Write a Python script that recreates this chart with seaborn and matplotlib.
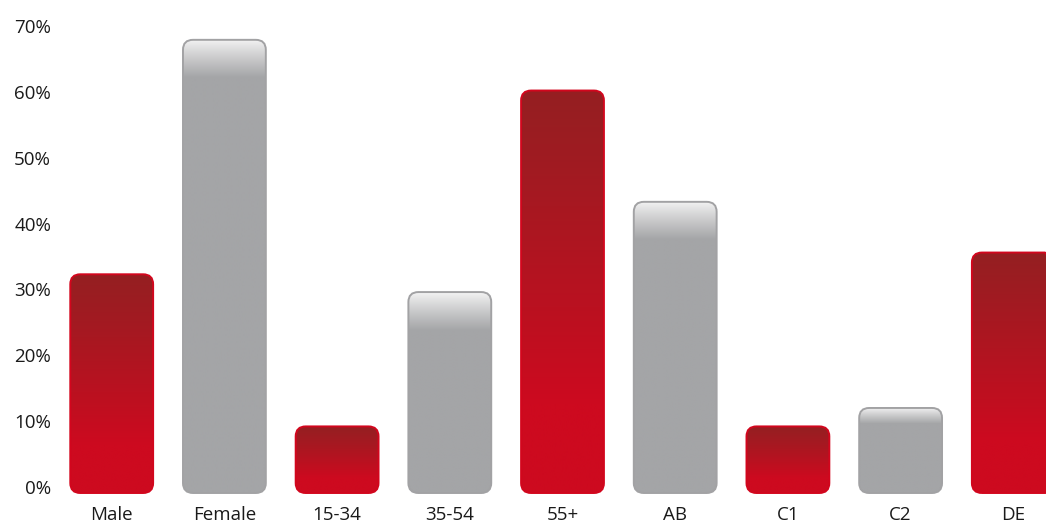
import numpy as np
import matplotlib
matplotlib.use("Agg")
import matplotlib.pyplot as plt
import seaborn as sns
import pandas as pd
from matplotlib.patches import FancyBboxPatch
from matplotlib.colors import to_rgb
from matplotlib.ticker import FuncFormatter

# ---- data ----
categories = ["Male", "Female", "15-34", "35-54", "55+", "AB", "C1", "C2", "DE"]
values = [32.3, 67.9, 9.2, 29.6, 60.2, 43.3, 9.2, 12.0, 35.6]
kinds = ["red", "gray", "red", "gray", "red", "gray", "red", "gray", "red"]
yticks = [0, 10, 20, 30, 40, 50, 60, 70]

sns.set_theme(style="white")
plt.rcParams['font.family'] = ['Open Sans', 'DejaVu Sans']

W, H = 1046, 526
fig = plt.figure(figsize=(W / 100, H / 100), dpi=100)
ax_l, ax_r, ax_t, ax_b = 58, 1046, 10, 500
ax = fig.add_axes([ax_l / W, 1 - ax_b / H, (ax_r - ax_l) / W, (ax_b - ax_t) / H])

df = pd.DataFrame({"category": categories, "value": values, "kind": kinds})
palette = {"red": "#cc0a1f", "gray": "#a4a5a7"}
sns.barplot(data=df, x="category", y="value", hue="kind", palette=palette,
            dodge=False, width=0.735, legend=False, ax=ax)

XLIM = (-0.4765, 8.29)
YLIM = (-1.974, 72.43)
ax.set_xlim(*XLIM)
ax.set_ylim(*YLIM)
BASE = -0.91

px_x = ax.bbox.width / (XLIM[1] - XLIM[0])
px_y = ax.bbox.height / (YLIM[1] - YLIM[0])
r_px = 10
rx = r_px / px_x
ry = r_px / px_y

red_dark = np.array(to_rgb("#951f22"))
red_bright = np.array(to_rgb("#cd0a1f"))
gray_light = np.array(to_rgb("#f4f4f4"))
gray_base = np.array(to_rgb("#a4a5a7"))

for p in list(ax.patches):
    h = p.get_height()
    if not np.isfinite(h) or h <= 0:
        p.set_visible(False)
        continue
    x0, w = p.get_x(), p.get_width()
    fc = p.get_facecolor()
    is_red = fc[0] > 0.6 and fc[1] < 0.3
    p.set_visible(False)
    top = h
    hpx = (top - BASE) * px_y
    n = max(int(hpx), 2)
    rows = np.arange(n) / (n - 1)  # 0 top -> 1 bottom
    if is_red:
        t = np.clip(rows / 0.78, 0, 1)
        t = t ** 1.1
        cols = red_dark[None, :] * (1 - t[:, None]) + red_bright[None, :] * t[:, None]
        edge = "#d2061d"
    else:
        L = min(38.0, 0.19 * hpx)
        d = rows * hpx
        t = np.clip(d / L, 0, 1)
        t = t ** 0.9
        cols = gray_light[None, :] * (1 - t[:, None]) + gray_base[None, :] * t[:, None]
        edge = "#a2a2a4"
    img = np.repeat(cols[:, None, :], 4, axis=1)
    patch = FancyBboxPatch((x0, BASE), w, top - BASE,
                           boxstyle=f"round,pad=0,rounding_size={rx}",
                           mutation_aspect=ry / rx,
                           facecolor="none", edgecolor=edge, linewidth=1.4, zorder=3)
    ax.add_patch(patch)
    im = ax.imshow(img, extent=[x0, x0 + w, BASE, top], aspect="auto",
                   origin="upper", zorder=2, interpolation="bilinear")
    im.set_clip_path(patch)

ax.set_xlim(*XLIM)
ax.set_ylim(*YLIM)
ax.set_yticks(yticks)
ax.yaxis.set_major_formatter(FuncFormatter(lambda v, _: f"{int(v)}%"))
ax.set_xlabel("")
ax.set_ylabel("")
for s in ax.spines.values():
    s.set_visible(False)
ax.tick_params(axis="both", length=0, labelsize=13.5, colors="#1a1a1a")
ax.tick_params(axis="y", pad=5)
ax.tick_params(axis="x", pad=4)
ax.grid(False)
fig.patch.set_facecolor("white")
ax.set_facecolor("white")

fig.savefig("out.png", dpi=100)
